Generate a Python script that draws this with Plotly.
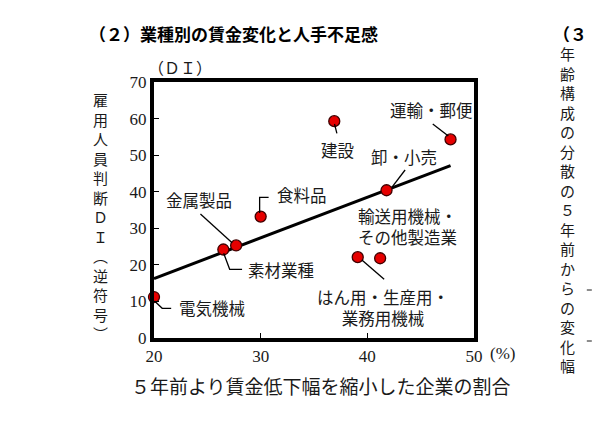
"""Recreation: (2) wage change by industry vs. labour shortage DI."""

import numpy as np
import plotly.graph_objects as go

# data
industries = ['電気機械', '素材業種', '金属製品', '食料品', 'はん用・生産用・業務用機械',
              '輸送用機械・その他製造業', '卸・小売', '運輸・郵便', '建設']
wage_share = [20.0, 26.5, 27.7, 30.0, 39.1, 41.2, 41.8, 47.8, 36.9]
shortage_di = [11.2, 24.2, 25.3, 33.2, 22.1, 21.8, 40.4, 54.3, 59.3]

x_ticks = [20, 30, 40, 50]
y_ticks = [0, 10, 20, 30, 40, 50, 60, 70]

# figure geometry (pixels)
FW, FH = 592, 431
L, R, T, B = 153.5, 118, 82, 93
W, H = FW - L - R, FH - T - B

JP = 'Noto Sans CJK JP'
SERIF = 'Liberation Serif'
INK = '#1a1a1a'


def px(x):
    """Pixel x -> paper x."""
    return (x - L) / W


def py(y):
    """Pixel y -> paper y."""
    return 1 - (y - T) / H


def vertical(s):
    return '<br>'.join(s)


def note(x, y, text, **kw):
    """Text centred on a pixel position."""
    opts = dict(xanchor='center', yanchor='middle')
    opts.update(kw)
    fig.add_annotation(x=px(x), y=py(y), xref='paper', yref='paper', text=text,
                       showarrow=False, **opts)


# label positions (pixel centre) and leader lines (pixel polylines)
label_pos = {
    '電気機械': (212, 308),
    '素材業種': (281, 270),
    '金属製品': (199, 200),
    '食料品': (302, 195),
    'はん用・生産用・業務用機械': (383, 307),
    '輸送用機械・その他製造業': (407, 226),
    '卸・小売': (404, 157),
    '運輸・郵便': (431, 110),
    '建設': (337, 150),
}
label_text = {
    'はん用・生産用・業務用機械': 'はん用・生産用・<br>業務用機械',
    '輸送用機械・その他製造業': '輸送用機械・<br>その他製造業',
}
leaders = [
    [(154, 301), (161.7, 308.3), (170.7, 308.3)],
    [(223.3, 253.3), (229.3, 269.3), (241.7, 269.3)],
    [(200, 214), (231.7, 242.7)],
    [(259.3, 213), (259.3, 197.3), (268.3, 197.3)],
    [(334.3, 124), (336.7, 133.3)],
    [(432.7, 124), (448.3, 136)],
    [(405, 170), (391.7, 187.3)],
    [(361.7, 260), (384, 279.3)],
]

fig = go.Figure()

# regression line
b, a = np.polyfit(wage_share, shortage_di, 1)
xl = [min(wage_share), max(wage_share)]
fig.add_trace(go.Scatter(x=xl, y=[a + b * v for v in xl], mode='lines',
                         line=dict(color='black', width=3), hoverinfo='skip'))

# leader lines
for pts in leaders:
    path = 'M ' + ' L '.join(f'{px(x):.4f} {py(y):.4f}' for x, y in pts)
    fig.add_shape(type='path', path=path, xref='paper', yref='paper',
                  line=dict(color='black', width=1.3))

fig.add_trace(go.Scatter(x=wage_share, y=shortage_di, mode='markers', text=industries,
                         marker=dict(size=11, color='#e60000',
                                     line=dict(color='#400000', width=1.3)),
                         cliponaxis=False))

for name in industries:
    x, y = label_pos[name]
    note(x, y, label_text.get(name, name), font=dict(family=JP, size=16.5, color=INK))

# titles and outer text
note(86, 33, '<b>（２）業種別の賃金変化と人手不足感</b>', xanchor='left',
     font=dict(family=JP, size=17, color='black'))
note(551, 33, '<b>（３</b>', xanchor='left', font=dict(family=JP, size=17, color='black'))
note(568, 209, vertical('年齢構成の分散の５年前からの変化幅'),
     font=dict(family=JP, size=15, color=INK))
note(180, 67, '（ＤＩ）', font=dict(family=JP, size=16, color=INK))
note(100, 216, vertical('雇用人員判断ＤＩ︵逆符号︶'), font=dict(family=JP, size=15, color=INK))
note(503, 353, '(%)', font=dict(family=SERIF, size=17, color=INK))
note(321, 385, '５年前より賃金低下幅を縮小した企業の割合',
     font=dict(family=JP, size=19, color=INK))
for yy in (290, 341):
    fig.add_shape(type='line', xref='paper', yref='paper',
                  x0=px(587), x1=px(592), y0=py(yy), y1=py(yy),
                  line=dict(color=INK, width=1))

axis_common = dict(showline=True, linecolor='black', linewidth=4, mirror=True,
                   showgrid=False, zeroline=False, ticks='inside', ticklen=5,
                   tickwidth=1, tickcolor='black',
                   tickfont=dict(family=SERIF, size=17, color=INK))
fig.update_xaxes(range=[20, 50], tickvals=x_ticks, **axis_common)
fig.update_yaxes(range=[0, 70], tickvals=y_ticks, **axis_common)

fig.update_layout(width=FW, height=FH, showlegend=False,
                  margin=dict(l=L, r=R, t=T, b=B),
                  paper_bgcolor='white', plot_bgcolor='white')

# drop the browser's default page margin so the figure sits at (0, 0)
fig.write_html("out.html", config={'displayModeBar': False},
               post_script="document.body.style.margin = '0';")
